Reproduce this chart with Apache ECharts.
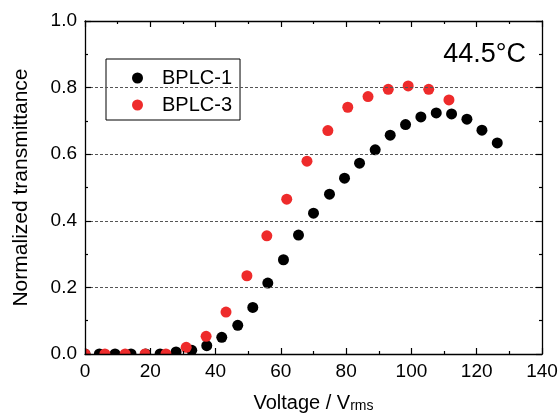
<!DOCTYPE html>
<html>
<head>
<meta charset="utf-8">
<script src="https://cdn.jsdelivr.net/npm/echarts@6/dist/echarts.min.js"></script>
<style>html,body{margin:0;padding:0;background:#fff}#c{width:560px;height:414px}</style>
</head>
<body>
<div id="c"></div>
<script>
// Data
var bplc1Voltage = [0, 4.4, 9.2, 14.1, 18.6, 23.0, 27.9, 32.7, 37.3, 41.9, 46.8, 51.4, 56.0, 60.8, 65.4, 70.0, 74.9, 79.5, 84.1, 88.9, 93.5, 98.2, 102.9, 107.6, 112.3, 117.0, 121.6, 126.3];
var bplc1Trans   = [0, 0, 0, 0, 0, 0, 0.006, 0.011, 0.025, 0.05, 0.086, 0.14, 0.213, 0.283, 0.357, 0.423, 0.48, 0.528, 0.573, 0.613, 0.657, 0.689, 0.712, 0.724, 0.721, 0.705, 0.672, 0.634];
var bplc3Voltage = [0, 6.1, 12.3, 18.4, 24.8, 31.0, 37.1, 43.2, 49.6, 55.7, 61.8, 68.0, 74.4, 80.5, 86.7, 92.9, 99.0, 105.3, 111.5];
var bplc3Trans   = [0, 0, 0, 0, 0, 0.02, 0.053, 0.126, 0.235, 0.355, 0.465, 0.579, 0.671, 0.741, 0.773, 0.795, 0.805, 0.795, 0.763];
var seriesNames = ['BPLC-1', 'BPLC-3'];
var xTicks = [0, 20, 40, 60, 80, 100, 120, 140];
var yTicks = [0.0, 0.2, 0.4, 0.6, 0.8, 1.0];
var annotation = '44.5°C';

function pairs(xs, ys) { return xs.map(function (x, i) { return [x, ys[i]]; }); }

var FONT = 'Liberation Sans, Arial, sans-serif';
var chart = echarts.init(document.getElementById('c'), null, { renderer: 'canvas' });
var axisLine = { show: true, onZero: false, lineStyle: { color: '#000', width: 1.3 } };
var tick = { show: true, inside: true, length: 6, lineStyle: { color: '#000', width: 1.2 } };
var minor = { show: true, splitNumber: 2, length: 3, lineStyle: { color: '#000', width: 1.2 } };
var option = {
  backgroundColor: '#fff',
  animation: false,
  textStyle: { fontFamily: FONT, color: '#000' },
  title: {
    text: annotation, right: 29, top: 36,
    textStyle: { fontFamily: FONT, fontSize: 27, fontWeight: 'normal', color: '#000' }
  },
  legend: {
    orient: 'vertical', left: 106, top: 59,
    padding: [9, 8, 5, 26],
    itemWidth: 11, itemHeight: 11, itemGap: 7,
    borderColor: '#000', borderWidth: 1, borderRadius: 0,
    backgroundColor: '#fff',
    textStyle: { fontFamily: FONT, fontSize: 20, color: '#000', padding: [0, 0, 0, 14] },
    data: [{ name: seriesNames[0], icon: 'circle' }, { name: seriesNames[1], icon: 'circle' }]
  },
  grid: { left: 85, right: 18, top: 21, bottom: 60, containLabel: false, outerBoundsMode: 'none' },
  xAxis: [{
    type: 'value', min: 0, max: 140, interval: 20, position: 'bottom', z: 10,
    name: '{a|Voltage / V}{b|rms}', nameLocation: 'middle', nameGap: 37,
    nameTextStyle: { rich: {
      a: { fontFamily: FONT, fontSize: 20, color: '#000', verticalAlign: 'bottom', lineHeight: 22 },
      b: { fontFamily: FONT, fontSize: 14, color: '#000', verticalAlign: 'bottom', lineHeight: 18 }
    } },
    axisLine: axisLine, axisTick: tick, minorTick: minor,
    axisLabel: { fontFamily: FONT, fontSize: 19, color: '#000', margin: 8, formatter: function (v) { return xTicks.indexOf(v) >= 0 ? String(v) : ''; } },
    splitLine: { show: false }
  }, {
    type: 'value', min: 0, max: 140, interval: 20, position: 'top', z: 10,
    axisLine: axisLine, axisTick: tick, minorTick: minor,
    axisLabel: { show: false }, splitLine: { show: false }
  }],
  yAxis: [{
    type: 'value', min: 0, max: 1, interval: 0.2, position: 'left', z: 10,
    name: 'Normalized transmittance', nameLocation: 'middle', nameGap: 53,
    nameTextStyle: { fontFamily: FONT, fontSize: 21, color: '#000' },
    axisLine: axisLine, axisTick: tick, minorTick: minor,
    axisLabel: { fontFamily: FONT, fontSize: 19, color: '#000', margin: 8, formatter: function (v) { return yTicks.indexOf(Math.round(v * 10) / 10) >= 0 ? v.toFixed(1) : ''; } },
    splitLine: { show: true, lineStyle: { color: '#555', width: 1, type: [3, 2] } }
  }, {
    type: 'value', min: 0, max: 1, interval: 0.2, position: 'right', z: 10,
    axisLine: axisLine, axisTick: tick, minorTick: minor,
    axisLabel: { show: false }, splitLine: { show: false }
  }],
  series: [{
    name: seriesNames[0], type: 'scatter', xAxisIndex: 0, yAxisIndex: 0,
    symbol: 'circle', symbolSize: 11, clip: true,
    itemStyle: { color: '#000', opacity: 1 },
    data: pairs(bplc1Voltage, bplc1Trans), z: 2
  }, {
    name: seriesNames[1], type: 'scatter', xAxisIndex: 0, yAxisIndex: 0,
    symbol: 'circle', symbolSize: 11, clip: true,
    itemStyle: { color: '#ee2b2b', opacity: 1 },
    data: pairs(bplc3Voltage, bplc3Trans), z: 3
  }]
};
chart.setOption(option);

// White masks outside the plot area so markers are clipped at the frame, as in the reference
var p0 = chart.convertToPixel({ xAxisIndex: 0, yAxisIndex: 0 }, [0, 0]);
var p1 = chart.convertToPixel({ xAxisIndex: 0, yAxisIndex: 0 }, [140, 1]);
chart.setOption({
  graphic: [
    { type: 'rect', z: 5, silent: true, shape: { x: p0[0] - 10, y: p0[1], width: p1[0] - p0[0] + 20, height: 7 }, style: { fill: '#fff' } },
    { type: 'rect', z: 5, silent: true, shape: { x: p0[0] - 8, y: p1[1], width: 8, height: p0[1] - p1[1] + 7 }, style: { fill: '#fff' } }
  ]
});
</script>
</body>
</html>
